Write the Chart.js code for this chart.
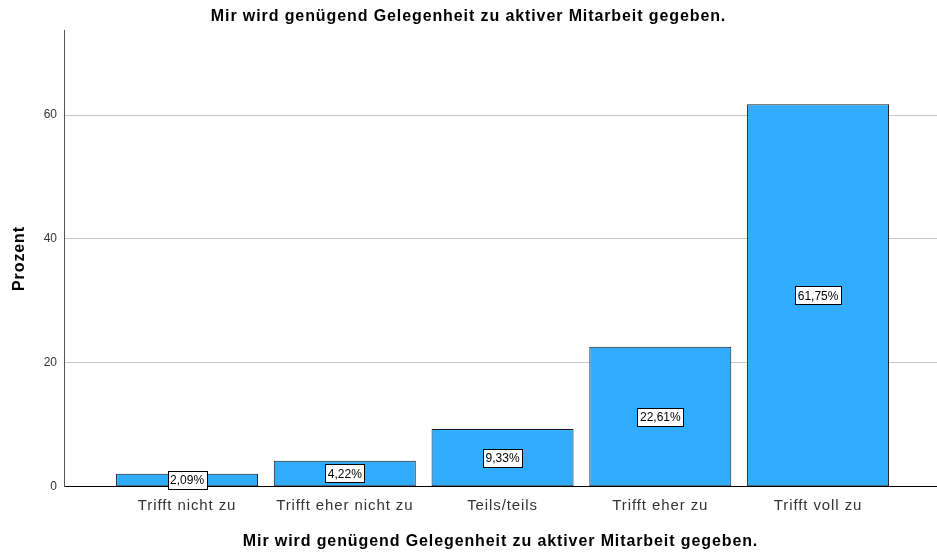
<!DOCTYPE html>
<html>
<head>
<meta charset="utf-8">
<script src="https://cdn.jsdelivr.net/npm/chart.js@4/dist/chart.umd.min.js"></script>
<style>
  html, body { margin: 0; padding: 0; background: #ffffff; }
  #wrap { width: 937px; height: 556px; }
</style>
</head>
<body>
<div id="wrap"><canvas id="c" width="937" height="556"></canvas></div>
<script>
const chartTitle = "Mir wird genügend Gelegenheit zu aktiver Mitarbeit gegeben.";
const categories = ["Trifft nicht zu", "Trifft eher nicht zu", "Teils/teils", "Trifft eher zu", "Trifft voll zu"];
const percentValues = [2.09, 4.22, 9.33, 22.61, 61.75];
const yTickValues = [0, 20, 40, 60];
const yAxisLabel = "Prozent";

const FONT = "'Liberation Sans', Arial, sans-serif";
const WIDE = '0.9px';

// Widen title / category text slightly (reference uses a wide GDI-rendered Arial)
const spacing = {
  id: 'spacing',
  beforeLayout(chart) { chart.ctx.letterSpacing = WIDE; },
  afterLayout(chart) {
    const y = chart.scales.y;
    if (y && !y._patched) {
      const orig = y.drawLabels.bind(y);
      y.drawLabels = function (ca) {
        const prev = this.ctx.letterSpacing;
        this.ctx.letterSpacing = '0px';
        orig(ca);
        this.ctx.letterSpacing = prev;
      };
      y._patched = true;
    }
  },
  beforeDraw(chart) { chart.ctx.letterSpacing = WIDE; },
  beforeDatasetsDraw(chart) { chart.ctx.letterSpacing = '0px'; },
  afterDraw(chart) { chart.ctx.letterSpacing = '0px'; }
};

const boxLabels = {
  id: 'boxLabels',
  afterDatasetsDraw(chart) {
    const ctx = chart.ctx;
    const meta = chart.getDatasetMeta(0);
    ctx.save();
    ctx.letterSpacing = '0px';
    ctx.font = "12px " + FONT;
    ctx.textAlign = 'center';
    ctx.textBaseline = 'middle';
    meta.data.forEach((bar, i) => {
      const txt = percentValues[i].toFixed(2).replace('.', ',') + '%';
      const cx = bar.x;
      const cy = (bar.y + bar.base) / 2;
      const w = Math.round(ctx.measureText(txt).width + 5);
      const h = 18;
      const x0 = Math.round(cx - w / 2) + 0.5;
      const y0 = Math.round(cy - h / 2) + 0.5;
      ctx.fillStyle = '#ffffff';
      ctx.fillRect(x0, y0, w, h);
      ctx.strokeStyle = '#000000';
      ctx.lineWidth = 1;
      ctx.strokeRect(x0, y0, w, h);
      ctx.fillStyle = '#000000';
      ctx.fillText(txt, cx, cy + 1);
    });
    ctx.restore();
  }
};

new Chart(document.getElementById('c'), {
  type: 'bar',
  data: {
    datasets: [{
      data: percentValues.map((v, i) => ({ x: i, y: v })),
      backgroundColor: '#31acff',
      borderColor: '#1a1a1a',
      borderWidth: 1,
      borderSkipped: false,
      categoryPercentage: 1.0,
      barPercentage: 0.9
    }]
  },
  options: {
    responsive: false,
    animation: false,
    layout: { padding: { left: 0, right: 0, top: 0, bottom: 0 } },
    plugins: {
      legend: { display: false },
      tooltip: { enabled: false },
      title: {
        display: true,
        text: chartTitle,
        color: '#000000',
        font: { family: FONT, size: 16, weight: 'bold' },
        padding: { top: 7, bottom: 4 }
      }
    },
    scales: {
      x: {
        type: 'linear',
        offset: false,
        min: -0.78,
        max: 4.754,
        afterBuildTicks(scale) { scale.ticks = categories.map((_, i) => ({ value: i })); },
        ticks: {
          callback: (v) => categories[v] || '',
          color: '#333333',
          font: { family: FONT, size: 15 },
          padding: 10,
          maxRotation: 0,
          autoSkip: false
        },
        grid: { display: false, drawTicks: false, offset: false },
        border: { display: true, color: '#000000', width: 1 },
        title: {
          display: true,
          text: chartTitle,
          color: '#000000',
          font: { family: FONT, size: 16, weight: 'bold' },
          padding: { top: 7, bottom: 5 }
        }
      },
      y: {
        min: 0,
        max: 73.7,
        afterBuildTicks(scale) { scale.ticks = yTickValues.map(v => ({ value: v })); },
        afterFit(scale) { scale.width = 64; },
        ticks: {
          color: '#333333',
          font: { family: FONT, size: 12 },
          padding: 7
        },
        grid: { color: '#c8c8c8', lineWidth: 1, drawTicks: false },
        border: { display: true, color: '#555555', width: 1 },
        title: {
          display: true,
          text: yAxisLabel,
          color: '#000000',
          font: { family: FONT, size: 16, weight: 'bold' },
          padding: { top: 10, bottom: 0 }
        }
      }
    }
  },
  plugins: [spacing, boxLabels]
});
</script>
</body>
</html>
